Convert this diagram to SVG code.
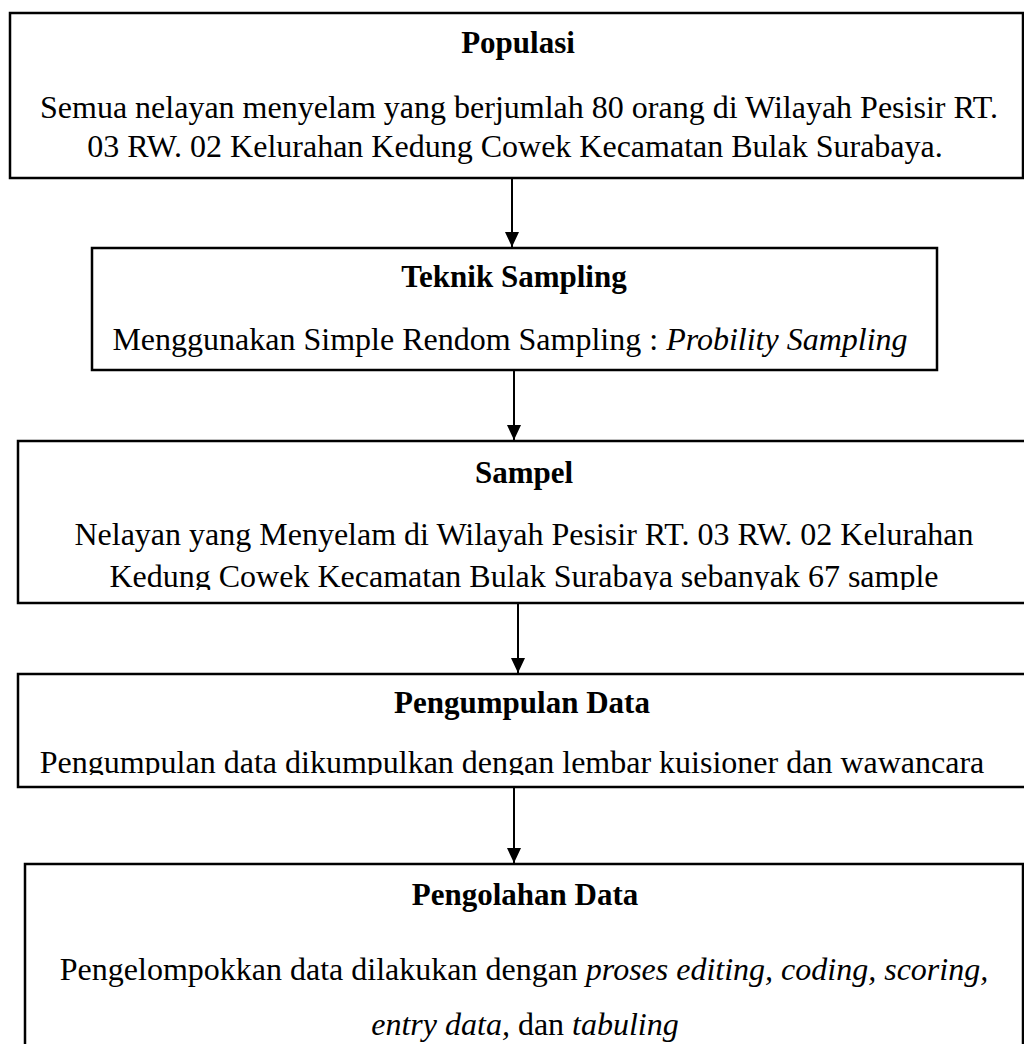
<svg xmlns="http://www.w3.org/2000/svg" width="1024" height="1044" viewBox="0 0 1024 1044">
  <style>
    .box { fill: #ffffff; stroke: #000000; stroke-width: 2.5; }
    .t { font-family: "Liberation Serif", "Times New Roman", serif; font-size: 31px; font-weight: bold; fill: #000; text-anchor: middle; }
    .b { font-family: "Liberation Serif", "Times New Roman", serif; font-size: 32px; fill: #000; text-anchor: middle; }
    .i { font-style: italic; }
    .conn { stroke: #000; stroke-width: 2; fill: none; marker-end: url(#ah); }
  </style>
  <defs>
    <marker id="ah" markerUnits="userSpaceOnUse" markerWidth="15" markerHeight="14" viewBox="0 0 15 14" refX="15" refY="7" orient="auto">
      <path d="M0,0 L15,7 L0,14 Z" fill="#000"/>
    </marker>
    <clipPath id="clip3"><rect x="0" y="441" width="1024" height="149"/></clipPath>
    <clipPath id="clip4"><rect x="0" y="674" width="1024" height="101"/></clipPath>
  </defs>
  <rect width="1024" height="1044" fill="#ffffff"/>

  <g id="node-populasi">
    <rect class="box" x="10" y="13" width="1013" height="165"/>
    <text class="t" x="518" y="53">Populasi</text>
    <text class="b" x="519" y="118">Semua nelayan menyelam yang berjumlah 80 orang di Wilayah Pesisir RT.</text>
    <text class="b" x="515" y="157">03 RW. 02 Kelurahan Kedung Cowek Kecamatan Bulak Surabaya.</text>
  </g>

  <g id="node-teknik-sampling">
    <rect class="box" x="92" y="248" width="845" height="122"/>
    <text class="t" x="514" y="287">Teknik Sampling</text>
    <text class="b" x="510" y="350">Menggunakan Simple Rendom Sampling : <tspan class="i">Probility Sampling</tspan></text>
  </g>

  <g id="node-sampel">
    <rect class="box" x="18" y="441" width="1030" height="162"/>
    <text class="t" x="524" y="483">Sampel</text>
    <g clip-path="url(#clip3)">
      <text class="b" x="524" y="545">Nelayan yang Menyelam di Wilayah Pesisir RT. 03 RW. 02 Kelurahan</text>
      <text class="b" x="524" y="587">Kedung Cowek Kecamatan Bulak Surabaya sebanyak 67 sample</text>
    </g>
  </g>

  <g id="node-pengumpulan-data">
    <rect class="box" x="18" y="674" width="1030" height="113"/>
    <text class="t" x="522" y="713">Pengumpulan Data</text>
    <g clip-path="url(#clip4)">
      <text class="b" x="512" y="773">Pengumpulan data dikumpulkan dengan lembar kuisioner dan wawancara</text>
    </g>
  </g>

  <g id="node-pengolahan-data">
    <rect class="box" x="25" y="864" width="998" height="200"/>
    <text class="t" x="525" y="905">Pengolahan Data</text>
    <text class="b" x="524" y="980">Pengelompokkan data dilakukan dengan <tspan class="i">proses editing, coding, scoring,</tspan></text>
    <text class="b" x="525" y="1035"><tspan class="i">entry data,</tspan> dan <tspan class="i">tabuling</tspan></text>
  </g>

  <g id="connectors">
    <line class="conn" x1="512" y1="179" x2="512" y2="247"/>
    <line class="conn" x1="514" y1="371" x2="514" y2="440"/>
    <line class="conn" x1="518" y1="604" x2="518" y2="673"/>
    <line class="conn" x1="514" y1="788" x2="514" y2="863"/>
  </g>
</svg>
